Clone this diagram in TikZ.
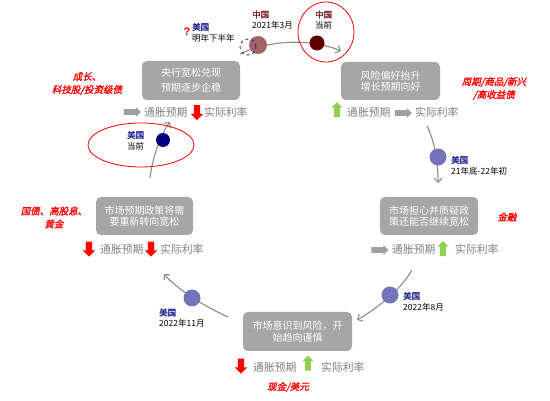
\documentclass[tikz,border=0pt]{standalone}
\usepackage{fontspec}
\setmainfont{Liberation Sans}
\newfontfamily\cjk{Noto Sans CJK SC}
\newfontfamily\cjkb[FakeBold=2]{Noto Sans CJK SC}
\newfontfamily\cjkit[FakeSlant=0.22,FakeBold=1.5]{Noto Sans CJK SC}
\usetikzlibrary{shapes.arrows,arrows.meta}
\definecolor{boxgray}{HTML}{A6A6A6}
\definecolor{txtgray}{HTML}{7F7F7F}
\definecolor{curvegray}{HTML}{8C8C8C}
\definecolor{arrgray}{HTML}{A0A0A0}
\definecolor{gup}{HTML}{92D050}
\definecolor{rdown}{HTML}{FF0000}
\definecolor{usc}{HTML}{7474BC}
\definecolor{usnow}{HTML}{00007F}
\definecolor{navy}{HTML}{1F1F8F}
\definecolor{cnred}{HTML}{7F1F1F}
\definecolor{cn21}{HTML}{A06464}
\definecolor{cnnow}{HTML}{5C0000}
\begin{document}
\begin{tikzpicture}[x=1pt,y=-1pt,
  box/.style={fill=boxgray, rounded corners=5pt, text=white, align=center, inner sep=0pt,
    font=\cjk\fontsize{10}{11.5}\selectfont},
  lbl/.style={text=txtgray, anchor=west, inner sep=0pt, font=\cjk\fontsize{10.8}{13}\selectfont},
  redtxt/.style={text=red, align=center, inner sep=0pt, font=\cjkit\fontsize{9.5}{13}\selectfont},
  uslbl/.style={anchor=west, inner sep=0pt, align=left, font=\cjk\fontsize{8.5}{11}\selectfont},
  garr/.style={single arrow, fill=arrgray, draw=none, inner sep=2.6pt, minimum height=17pt,
    single arrow head extend=2.2pt, single arrow head indent=0pt},
  rarr/.style={single arrow, fill=rdown, draw=none, inner sep=3pt, minimum height=15pt,
    single arrow head extend=3pt, shape border rotate=270},
  uarr/.style={single arrow, fill=gup, draw=none, inner sep=2.6pt, minimum height=15pt,
    single arrow head extend=2.8pt, shape border rotate=90},
  cyc/.style={draw=curvegray, line width=1.1pt, -{Straight Barb[length=4pt,width=8pt]}},
  dot/.style={circle, inner sep=0pt, draw=none},
  ring/.style={draw=red, line width=0.8pt}]
\useasboundingbox (0,0) rectangle (550,401);

% boxes
\node[box, minimum width=98pt, minimum height=39pt, font=\cjk\fontsize{10}{15}\selectfont] (b1) at (191,80.5) {央行宽松兑现\\预期逐步企稳};
\node[box, minimum width=99pt, minimum height=38pt] (b2) at (390.5,81) {风险偏好抬升\\增长预期向好};
\node[box, minimum width=98pt, minimum height=38pt] (b3) at (429,216) {市场担心并质疑政\\策还能否继续宽松};
\node[box, minimum width=97pt, minimum height=38pt] (b4) at (144.5,216) {市场预期政策将需\\要重新转向宽松};
\node[box, minimum width=109pt, minimum height=39pt] (b5) at (297.5,331.5) {市场意识到风险，开\\始趋向谨慎};

% indicator rows
\node[garr] (r1a) at (131,112) {};
\node[lbl] (r1b) at (144,112) {通胀预期};
\node[rarr] (r1c) at (197,111) {};
\node[lbl] (r1d) at (204,112) {实际利率};

\node[uarr] (r2a) at (337,111) {};
\node[lbl] (r2b) at (347,112) {通胀预期};
\node[garr] (r2c) at (402,113) {};
\node[lbl] (r2d) at (415,112) {实际利率};

\node[garr] (r3a) at (378.5,250) {};
\node[lbl] (r3b) at (392,249) {通胀预期};
\node[uarr] (r3c) at (443,250) {};
\node[lbl] (r3d) at (455,249) {实际利率};

\node[rarr] (r4a) at (89,247.5) {};
\node[lbl] (r4b) at (100,249) {通胀预期};
\node[rarr] (r4c) at (151,247.5) {};
\node[lbl] (r4d) at (160,249) {实际利率};

\node[rarr] (r5a) at (241,364.5) {};
\node[lbl] (r5b) at (253,367) {通胀预期};
\node[uarr] (r5c) at (308,364.5) {};
\node[lbl] (r5d) at (321,367) {实际利率};

% red asset labels
\node[redtxt] (t1) at (87,83.5) {成长、\\科技股/投资级债};
\node[redtxt] (t2) at (494,88.5) {周期/商品/新兴\\/高收益债};
\node[redtxt] (t3) at (507,217) {金融};
\node[redtxt] (t4) at (54,217.5) {国债、高股息、\\黄金};
\node[redtxt] (t5) at (288,387) {现金/美元};

% cycle curves
\coordinate (a0) at (240,54);
\coordinate (a1) at (341,51);
\coordinate (bb0) at (427,126);
\coordinate (bb1) at (438,183);
\coordinate (c0) at (412,270);
\coordinate (c1) at (357,320);
\coordinate (d0) at (228,317);
\coordinate (d1) at (164,274);
\coordinate (e0) at (150,178);
\coordinate (e1) at (170,122);
\draw[cyc] (a0) .. controls (270,40) and (310,38) .. (a1);
\draw[cyc] (bb0) .. controls (434,140) and (438,160) .. (bb1);
\draw[cyc] (c0) .. controls (402,288) and (378,308) .. (c1);
\draw[cyc] (d0) .. controls (208,308) and (180,292) .. (d1);
\draw[cyc] (e0) .. controls (152,160) and (160,135) .. (e1);

% dots
\node[dot, fill=cn21, minimum size=18pt] (cn1) at (258,45) {};
\node[dot, draw=navy, dashed, line width=0.8pt, minimum size=16pt] (usd) at (248,47) {};
\node[dot, fill=cnnow, minimum size=15pt] (cn2) at (317,43) {};
\node[dot, fill=usc, minimum size=17pt] (us1) at (438,157) {};
\node[dot, fill=usc, minimum size=17pt] (us2) at (390,295) {};
\node[dot, fill=usc, minimum size=17pt] (us3) at (192,298) {};
\node[dot, fill=usnow, minimum size=14pt] (us4) at (163,140) {};

% red rings
\draw[ring] (326,32) ellipse [x radius=28, y radius=30];
\draw[ring] (141,145) ellipse [x radius=53, y radius=22];

% point labels
\node[text=red, inner sep=0pt, font=\bfseries\fontsize{11}{11}\selectfont] (q) at (187,32) {?};
\node[uslbl] (l1) at (192,32.5) {{\cjkb\color{navy}美国}\\明年下半年};
\node[uslbl] (l2) at (252,20) {{\cjkb\color{cnred}中国}\\2021年3月};
\node[uslbl] (l3) at (315,20) {{\cjkb\color{cnred}中国}\\当前};
\node[uslbl] (l4) at (451,165.5) {{\cjkb\color{navy}美国}\\21年底-22年初};
\node[uslbl] (l5) at (403,301.5) {{\cjkb\color{navy}美国}\\2022年8月};
\node[uslbl] (l6) at (159,318) {{\cjkb\color{navy}美国}\\2022年11月};
\node[uslbl] (l7) at (127,140.5) {{\cjkb\color{navy}美国}\\当前};
\end{tikzpicture}
\end{document}
